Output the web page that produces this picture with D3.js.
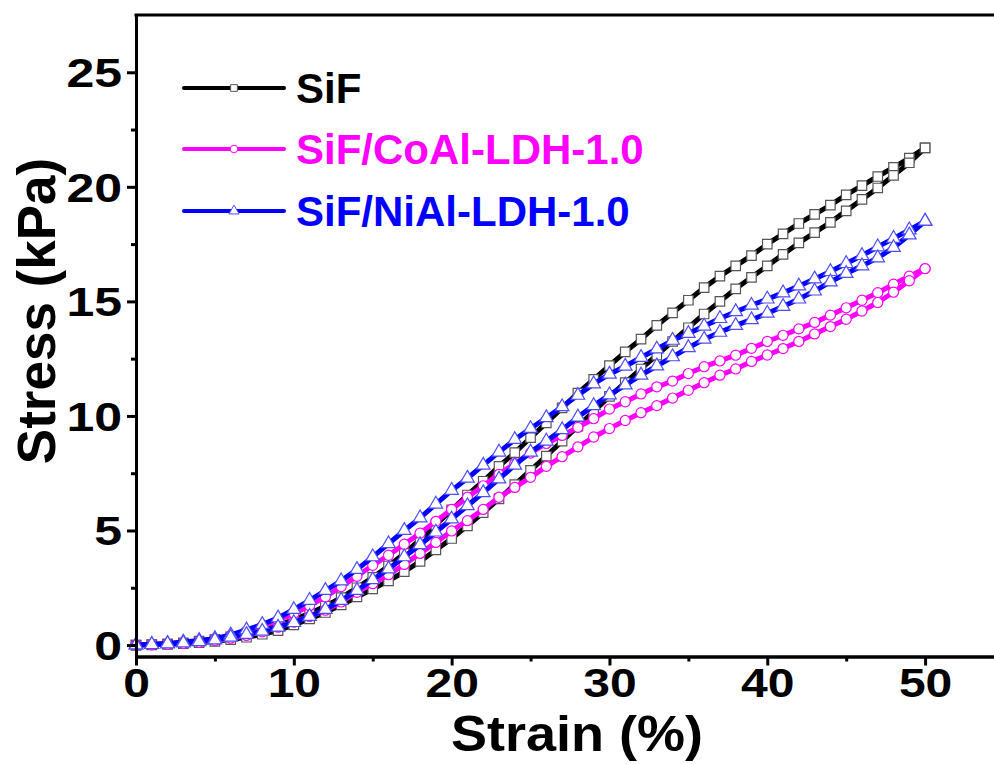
<!DOCTYPE html>
<html>
<head>
<meta charset="utf-8">
<script src="https://cdn.jsdelivr.net/npm/d3@7/dist/d3.min.js"></script>
<style>
  body { margin: 0; background: #fff; }
  svg text { font-family: "Liberation Sans", Arial, sans-serif; font-weight: bold; }
</style>
</head>
<body>
<svg width="994" height="764"></svg>
<script>
// strain points (%), one per marker
var strain = [0,1,2,3,4,5,6,7,8,9,10,11,12,13,14,15,16,17,18,19,20,21,22,23,24,25,
              26,27,28,29,30,31,32,33,34,35,36,37,38,39,40,41,42,43,44,45,46,47,48,49,50];

// stress (kPa), upper and lower branch of each loop
var sifUp    = [0,0.02,0.05,0.1,0.17,0.25,0.36,0.5,0.67,0.87,1.1,1.38,1.7,2.07,2.5,2.95,3.45,4.0,4.6,5.25,5.9,
                6.55,7.15,7.8,8.4,9.05,9.7,10.35,11.0,11.6,12.2,12.8,13.35,13.95,14.5,15.05,15.6,16.1,16.55,17.0,17.5,
                17.95,18.4,18.8,19.2,19.65,20.05,20.45,20.85,21.25,21.7];
var sifDown  = [0,0.01,0.03,0.06,0.1,0.16,0.24,0.34,0.47,0.63,0.88,1.14,1.42,1.75,2.1,2.45,2.8,3.2,3.65,4.15,4.65,
                5.2,5.78,6.38,7.0,7.62,8.25,8.9,9.55,10.2,10.85,11.45,12.05,12.65,13.25,13.85,14.45,15.0,15.55,16.05,16.55,
                17.05,17.55,18.0,18.45,18.95,19.45,19.95,20.5,21.05,21.7];
var coalUp   = [0,0.02,0.05,0.1,0.18,0.28,0.42,0.6,0.82,1.08,1.38,1.72,2.1,2.55,3.0,3.48,3.92,4.4,4.88,5.4,5.92,
                6.45,6.95,7.45,7.92,8.38,8.8,9.15,9.5,9.88,10.3,10.62,10.96,11.27,11.52,11.85,12.15,12.4,12.65,12.95,13.25,
                13.52,13.8,14.08,14.4,14.72,15.05,15.38,15.75,16.1,16.43];
var coalDown = [0,0.01,0.03,0.07,0.12,0.2,0.3,0.42,0.58,0.78,1.0,1.25,1.52,1.88,2.3,2.68,3.07,3.52,4.0,4.48,4.98,
                5.43,5.92,6.45,6.88,7.32,7.8,8.22,8.65,9.08,9.45,9.8,10.14,10.45,10.78,11.12,11.45,11.78,12.05,12.38,12.66,
                12.94,13.25,13.58,13.9,14.22,14.58,14.95,15.4,15.9,16.43];
var nialUp   = [0,0.03,0.07,0.13,0.2,0.28,0.44,0.66,0.9,1.18,1.55,1.95,2.38,2.8,3.3,3.85,4.42,5.0,5.55,6.15,6.75,
                7.28,7.85,8.42,8.97,9.45,9.92,10.4,10.9,11.4,11.82,12.17,12.55,12.92,13.3,13.6,13.92,14.25,14.55,14.83,15.1,
                15.37,15.67,15.98,16.3,16.65,17.0,17.38,17.75,18.12,18.5];
var nialDown = [0,0.02,0.05,0.09,0.15,0.22,0.34,0.46,0.6,0.78,0.98,1.25,1.55,1.95,2.38,2.85,3.32,3.85,4.38,4.93,5.5,
                6.08,6.65,7.25,7.85,8.42,8.9,9.4,9.95,10.45,10.92,11.35,11.78,12.18,12.58,12.98,13.35,13.65,13.95,14.2,14.48,
                14.78,15.1,15.45,15.85,16.22,16.55,16.9,17.35,17.9,18.5];

var names = ["SiF", "SiF/CoAl-LDH-1.0", "SiF/NiAl-LDH-1.0"];
var yMajor = [0,5,10,15,20,25];
var yMinor = [2.5,7.5,12.5,17.5,22.5];
var xMajor = [0,10,20,30,40,50];
var xMinor = [5,15,25,35,45];

var svg = d3.select("svg");

var x = d3.scaleLinear().domain([0, 55]).range([136, 1004]);
var y = d3.scaleLinear().domain([-0.5, 27.5]).range([656.5, 15]);

// loop = loading branch up to 50 % then unloading back to 0
function loop(up, down) {
  var pts = [];
  for (var i = 0; i < strain.length; i++) pts.push([strain[i], up[i]]);
  for (var j = strain.length - 1; j >= 0; j--) pts.push([strain[j], down[j]]);
  return pts;
}

var series = [
  {name: names[0], pts: loop(sifUp, sifDown), line: "#000000", mk: "#555555", shape: "square", size: 90},
  {name: names[1], pts: loop(coalUp, coalDown), line: "#ff00ff", mk: "#ff00ff", shape: "circle", size: 80},
  {name: names[2], pts: loop(nialUp, nialDown), line: "#0000ff", mk: "#4d4dff", shape: "triangle", size: 80}
];

var line = d3.line().x(function(d) { return x(d[0]); }).y(function(d) { return y(d[1]); });

function symbolFor(s, size) {
  var t = s == "square" ? d3.symbolSquare : (s == "circle" ? d3.symbolCircle : d3.symbolTriangle);
  return d3.symbol().type(t).size(size);
}

series.forEach(function(s) {
  var g = svg.append("g");
  g.append("path")
    .attr("d", line(s.pts))
    .attr("fill", "none")
    .attr("stroke", s.line)
    .attr("stroke-width", 5)
    .attr("stroke-linejoin", "round");
  g.selectAll("path.mk").data(s.pts).enter().append("path")
    .attr("class", "mk")
    .attr("transform", function(d) { return "translate(" + x(d[0]) + "," + y(d[1]) + ")"; })
    .attr("d", symbolFor(s.shape, s.size))
    .attr("fill", "#fff")
    .attr("stroke", s.mk)
    .attr("stroke-width", 1.2);
});

// axes
var yAx = svg.append("g").attr("transform", "translate(136,0)")
  .call(d3.axisLeft(y).tickValues(yMajor).tickSize(9).tickPadding(6).tickSizeOuter(0));
svg.append("g").attr("transform", "translate(136,0)")
  .call(d3.axisLeft(y).tickValues(yMinor).tickSize(5).tickFormat("").tickSizeOuter(0));
var xAx = svg.append("g").attr("transform", "translate(0,656.5)")
  .call(d3.axisBottom(x).tickValues(xMajor).tickSize(9).tickPadding(6).tickSizeOuter(0));
svg.append("g").attr("transform", "translate(0,656.5)")
  .call(d3.axisBottom(x).tickValues(xMinor).tickSize(5).tickFormat("").tickSizeOuter(0));

svg.selectAll(".domain").attr("stroke", "#000").attr("stroke-width", 3);
svg.selectAll(".tick line").attr("stroke", "#000").attr("stroke-width", 3);

// tick labels: wider bold face as in the picture
yAx.selectAll(".tick text").attr("font-size", 40).attr("fill", "#000")
  .attr("x", null).attr("dy", "0.36em")
  .attr("transform", "translate(-14,0) scale(1.25,1)");
xAx.selectAll(".tick text").attr("font-size", 40).attr("fill", "#000")
  .attr("y", null).attr("dy", null)
  .attr("transform", "translate(0,40) scale(1.2,1)");

// top frame line
svg.append("line").attr("x1", 134.5).attr("x2", 994).attr("y1", 15).attr("y2", 15)
  .attr("stroke", "#000").attr("stroke-width", 3);

// axis titles
svg.append("text").attr("x", 577).attr("y", 751).attr("text-anchor", "middle")
  .attr("font-size", 50).attr("transform", "translate(577,0) scale(1.08,1) translate(-577,0)")
  .text("Strain (%)");
svg.append("text").attr("transform", "translate(55,311) rotate(-90)").attr("text-anchor", "middle")
  .attr("font-size", 53).text("Stress (kPa)");

// legend
var legY = [88, 149, 211];
series.forEach(function(s, i) {
  var lg = svg.append("g").attr("transform", "translate(0," + legY[i] + ")");
  lg.append("line").attr("x1", 184).attr("x2", 284).attr("y1", 0).attr("y2", 0)
    .attr("stroke", s.line).attr("stroke-width", 4).attr("stroke-linecap", "round");
  lg.append("path").attr("transform", "translate(234,0)")
    .attr("d", symbolFor(s.shape, 45))
    .attr("fill", "#fff").attr("stroke", s.mk).attr("stroke-width", 1);
  lg.append("text").attr("x", 296).attr("y", 15).attr("font-size", 42)
    .attr("fill", s.line).text(s.name);
});
</script>
</body>
</html>
